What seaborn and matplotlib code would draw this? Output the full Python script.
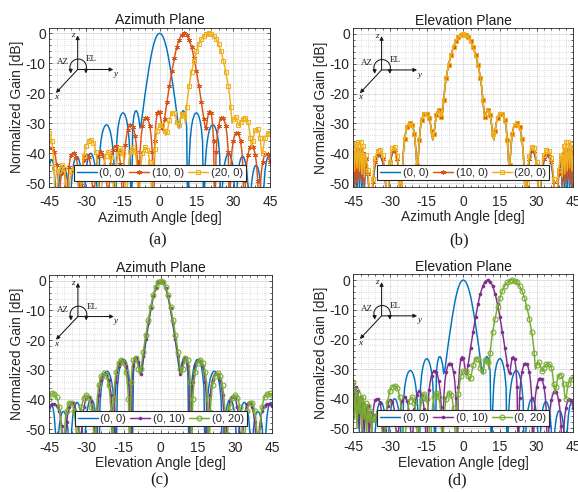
import numpy as np
import matplotlib
matplotlib.use("Agg")
import matplotlib.pyplot as plt
from matplotlib.patches import Arc
from matplotlib.ticker import MultipleLocator, FixedLocator
import seaborn as sns

sns.set_theme(style="white")
plt.rcParams["font.family"] = ["Liberation Sans", "DejaVu Sans"]
plt.rcParams["axes.unicode_minus"] = False

# ---------------- data (angle grid: -45 .. 45 deg, 0.5 deg step) ----------------
ANGLES = np.linspace(-45.0, 45.0, 181)
X_TICKS = [-45, -30, -15, 0, 15, 30, 45]
Y_TICKS = [-50, -40, -30, -20, -10, 0]

# broadside beam (0, 0), azimuth-type cut (panels a, c, d)
P00 = [
    -44.0, -42.6, -42.0, -42.8, -45.6, -51.2, -65.0, -54.8, -49.2, -46.3,
    -44.7, -44.1, -44.1, -45.0, -46.8, -50.0, -56.0, -66.0, -50.6, -45.7,
    -43.1, -41.7, -41.0, -41.1, -41.9, -43.5, -46.5, -52.2, -65.0, -51.5,
    -45.8, -42.8, -41.1, -40.2, -40.0, -40.5, -41.6, -43.5, -46.5, -52.0,
    -65.0, -41.0, -36.3, -33.7, -32.1, -31.1, -30.6, -30.5, -30.9, -31.8,
    -33.2, -35.5, -39.0, -45.0, -65.0, -36.1, -31.7, -29.2, -27.7, -26.8,
    -26.5, -26.7, -27.5, -28.8, -31.1, -35.0, -43.3, -65.0, -31.0, -27.5,
    -26.0, -25.8, -26.6, -28.4, -31.6, -30.0, -26.8, -23.6, -20.6, -17.8,
    -15.0, -12.4, -9.9, -7.6, -5.6, -3.9, -2.5, -1.4, -0.6, -0.15,
    0.0, -0.15, -0.6, -1.4, -2.5, -3.9, -5.6, -7.6, -9.9, -12.4,
    -15.0, -17.8, -20.6, -23.6, -26.8, -30.0, -31.6, -28.4, -26.6, -25.8,
    -26.0, -27.5, -31.0, -65.0, -43.3, -35.0, -31.1, -28.8, -27.5, -26.7,
    -26.5, -26.8, -27.7, -29.2, -31.7, -36.1, -65.0, -45.0, -39.0, -35.5,
    -33.2, -31.8, -30.9, -30.5, -30.6, -31.1, -32.1, -33.7, -36.3, -41.0,
    -65.0, -52.0, -46.5, -43.5, -41.6, -40.5, -40.0, -40.2, -41.1, -42.8,
    -45.8, -51.5, -65.0, -52.2, -46.5, -43.5, -41.9, -41.1, -41.0, -41.7,
    -43.1, -45.7, -50.6, -66.0, -56.0, -50.0, -46.8, -45.0, -44.1, -44.1,
    -44.7, -46.3, -49.2, -54.8, -65.0, -51.2, -45.6, -42.8, -41.4, -41.0,
    -41.3]

# beam steered to 10 deg (panel a orange)
A10 = [
    -38.2, -38.0, -38.2, -38.6, -39.5, -41.0, -44.0, -50.0, -65.0, -50.0,
    -46.5, -45.2, -45.5, -48.5, -65.0, -50.0, -44.5, -41.8, -40.5, -40.0,
    -40.0, -40.5, -41.6, -44.0, -50.0, -65.0, -50.5, -45.0, -42.3, -41.0,
    -40.5, -40.6, -41.2, -42.5, -45.0, -50.5, -65.0, -51.2, -45.5, -42.5,
    -40.8, -39.8, -39.5, -39.8, -40.8, -42.5, -45.5, -51.2, -65.0, -49.2,
    -43.5, -40.5, -38.8, -37.8, -37.5, -37.8, -38.8, -40.5, -43.5, -49.2,
    -65.0, -42.9, -37.2, -34.1, -32.2, -31.1, -30.6, -30.6, -31.1, -32.2,
    -34.1, -37.2, -42.9, -65.0, -39.7, -34.0, -31.0, -29.3, -28.3, -28.0,
    -28.3, -29.3, -31.0, -34.0, -39.7, -65.0, -36.0, -29.5, -26.5, -25.8,
    -26.3, -28.5, -31.5, -31.0, -28.5, -25.6, -22.8, -20.1, -17.5, -15.0,
    -12.6, -10.3, -8.2, -6.3, -4.6, -3.25, -2.1, -1.15, -0.5, -0.12,
    0.0, -0.12, -0.5, -1.15, -2.1, -3.25, -4.6, -6.3, -8.2, -10.3,
    -12.6, -15.0, -17.5, -20.1, -22.8, -25.6, -28.5, -31.0, -31.5, -28.5,
    -26.3, -25.8, -26.5, -29.5, -36.0, -65.0, -39.7, -34.0, -31.0, -29.3,
    -28.3, -28.0, -28.3, -29.3, -31.0, -34.0, -39.7, -65.0, -44.7, -39.0,
    -36.0, -34.3, -33.3, -33.0, -33.3, -34.3, -36.0, -39.0, -44.7, -65.0,
    -49.2, -43.5, -40.5, -38.8, -37.8, -37.5, -37.8, -38.8, -40.5, -43.5,
    -49.2, -65.0, -51.7, -46.0, -43.0, -41.3, -40.3, -40.0, -40.3, -41.3,
    -43.0]

# beam steered to 20 deg (panel a yellow)
A20 = [
    -33.2, -34.2, -36.0, -39.0, -45.0, -65.0, -54.0, -48.5, -45.8, -44.4,
    -44.0, -44.3, -45.3, -47.5, -52.0, -65.0, -52.0, -48.0, -46.0, -45.1,
    -45.0, -45.4, -46.5, -48.5, -53.0, -65.0, -49.0, -44.0, -41.0, -39.0,
    -37.5, -36.5, -35.9, -35.6, -35.6, -35.9, -36.5, -37.6, -39.5, -42.5,
    -48.0, -65.0, -55.0, -50.0, -45.5, -42.5, -40.8, -39.8, -39.5, -40.0,
    -41.3, -44.0, -49.0, -65.0, -48.0, -43.0, -40.2, -38.8, -38.3, -38.8,
    -40.0, -42.5, -47.5, -65.0, -47.0, -42.0, -39.5, -38.3, -38.0, -38.3,
    -39.5, -42.0, -47.0, -65.0, -48.0, -43.0, -40.0, -38.5, -38.0, -38.1,
    -38.8, -40.3, -43.0, -48.0, -65.0, -44.0, -38.5, -34.8, -32.5, -31.2,
    -30.6, -30.5, -30.7, -31.3, -32.5, -34.0, -33.0, -31.0, -28.8, -27.3,
    -26.5, -26.3, -26.6, -27.5, -29.5, -31.5, -30.5, -28.5, -27.0, -26.5,
    -27.5, -30.0, -24.5, -20.5, -17.6, -15.2, -13.0, -11.0, -9.2, -7.5,
    -6.0, -4.7, -3.6, -2.7, -1.9, -1.3, -0.8, -0.45, -0.2, -0.05,
    0.0, -0.05, -0.2, -0.45, -0.8, -1.3, -1.9, -2.7, -3.6, -4.7,
    -6.0, -7.5, -9.2, -11.0, -13.0, -15.2, -17.6, -20.5, -24.5, -30.0,
    -28.5, -27.8, -27.8, -28.8, -30.5, -30.8, -29.5, -28.8, -28.4, -28.2,
    -28.3, -28.6, -29.5, -31.5, -35.0, -38.0, -36.0, -33.5, -32.2, -31.7,
    -31.9, -32.8, -35.0, -39.0, -40.0, -37.0, -35.0, -33.8, -33.3, -33.2,
    -33.4]

# panel b (elevation cut, azimuth steering): common central part -25 .. 24.5 deg
B_CENTER = [
    -47.0, -39.5, -35.3, -32.8, -31.3, -30.4, -30.0, -30.1, -30.5, -31.5,
    -33.5, -38.0, -44.0, -42.5, -35.5, -31.2, -28.8, -27.4, -26.7, -26.6,
    -26.7, -27.2, -28.2, -29.8, -32.5, -35.5, -33.5, -30.0, -27.3, -25.8,
    -25.5, -26.2, -27.8, -26.5, -22.0, -17.7, -14.8, -12.4, -10.3, -8.5,
    -7.0, -5.6, -4.4, -3.3, -2.4, -1.65, -1.05, -0.6, -0.27, -0.07,
    0.0, -0.07, -0.27, -0.6, -1.05, -1.65, -2.4, -3.3, -4.4, -5.6,
    -7.0, -8.5, -10.3, -12.4, -14.8, -17.7, -22.0, -26.5, -27.8, -26.2,
    -25.5, -25.8, -27.3, -30.0, -33.5, -35.5, -32.5, -29.8, -28.2, -27.2,
    -26.7, -26.6, -26.7, -27.4, -28.8, -31.2, -35.5, -42.5, -44.0, -38.0,
    -33.5, -31.5, -30.5, -30.1, -30.0, -30.4, -31.3, -32.8, -35.3, -39.5]
# outer parts: -45 .. -25.5 deg and 25 .. 45 deg
B00_LEFT = [
    -41.3, -54.0, -40.3, -53.0, -40.0, -52.0, -40.3, -53.0, -41.3, -53.0,
    -43.5, -45.0, -48.0, -54.0, -65.0, -57.3, -50.8, -46.6, -43.9, -42.3,
    -41.4, -41.0, -41.1, -41.7, -42.9, -45.0, -48.3, -53.9, -65.0, -50.7,
    -44.7, -41.7, -40.1, -39.5, -39.6, -40.5, -42.5, -45.7, -51.7, -65.0]
B00_RIGHT = [
    -47.0, -65.0, -51.7, -45.7, -42.5, -40.5, -39.6, -39.5, -40.1, -41.7,
    -44.7, -50.7, -65.0, -53.9, -48.3, -45.0, -42.9, -41.7, -41.1, -41.0,
    -41.4, -42.3, -43.9, -46.6, -50.8, -57.3, -65.0, -54.0, -48.0, -45.0,
    -43.5, -53.0, -41.3, -53.0, -40.3, -52.0, -40.0, -53.0, -40.3, -54.0,
    -41.3]
B10_LEFT = [
    -39.8, -51.0, -38.8, -50.0, -38.5, -49.0, -38.8, -50.0, -39.8, -51.0,
    -42.0, -44.0, -47.0, -53.0, -65.0, -56.3, -49.8, -45.6, -42.9, -41.3,
    -40.4, -40.0, -40.1, -40.7, -41.9, -44.0, -47.3, -52.9, -65.0, -50.0,
    -44.0, -41.0, -39.4, -38.8, -38.9, -39.8, -41.8, -45.0, -51.0, -65.0]
B10_RIGHT = [
    -47.0, -65.0, -51.0, -45.0, -41.8, -39.8, -38.9, -38.8, -39.4, -41.0,
    -44.0, -50.0, -65.0, -52.9, -47.3, -44.0, -41.9, -40.7, -40.1, -40.0,
    -40.4, -41.3, -42.9, -45.6, -49.8, -56.3, -65.0, -53.0, -47.0, -44.0,
    -42.0, -51.0, -39.8, -50.0, -38.8, -49.0, -38.5, -50.0, -38.8, -51.0,
    -39.8]
B20_LEFT = [
    -38.0, -46.0, -36.8, -45.0, -36.2, -46.0, -36.3, -47.0, -37.5, -48.0,
    -40.5, -42.5, -45.5, -52.0, -65.0, -55.0, -48.5, -44.3, -41.6, -40.0,
    -39.1, -38.7, -38.8, -39.4, -40.6, -42.7, -46.0, -51.6, -65.0, -49.0,
    -43.0, -40.0, -38.4, -37.8, -37.9, -38.8, -40.8, -44.0, -50.0, -65.0]
B20_RIGHT = [
    -47.0, -65.0, -50.0, -44.0, -40.8, -38.8, -37.9, -37.8, -38.4, -40.0,
    -43.0, -49.0, -65.0, -51.6, -46.0, -42.7, -40.6, -39.4, -38.8, -38.7,
    -39.1, -40.0, -41.6, -44.3, -48.5, -55.0, -65.0, -52.0, -45.5, -42.5,
    -40.5, -48.0, -37.5, -47.0, -36.3, -46.0, -36.2, -45.0, -36.8, -46.0,
    -38.0]

# panel c (azimuth cut, elevation steering)
C10 = [
    -42.4, -41.9, -41.6, -41.5, -41.5, -41.7, -42.1, -42.8, -44.0, -46.0,
    -49.0, -55.0, -65.0, -53.4, -47.7, -44.6, -42.7, -41.6, -41.1, -41.1,
    -41.6, -42.7, -44.6, -47.7, -53.4, -65.0, -51.4, -45.7, -42.6, -40.7,
    -39.6, -39.1, -39.1, -39.6, -40.7, -42.6, -45.7, -51.4, -65.0, -44.3,
    -38.5, -35.3, -33.3, -32.1, -31.4, -31.2, -31.4, -32.1, -33.3, -35.3,
    -38.5, -44.3, -65.0, -39.8, -34.0, -30.8, -28.8, -27.6, -26.9, -26.7,
    -26.9, -27.6, -28.8, -30.8, -34.0, -39.8, -65.0, -33.0, -28.8, -26.8,
    -26.0, -26.2, -27.3, -29.5, -31.3, -28.6, -25.5, -22.5, -19.6, -16.9,
    -14.2, -11.75, -9.35, -7.2, -5.3, -3.7, -2.37, -1.33, -0.57, -0.14,
    0.0, -0.14, -0.57, -1.33, -2.37, -3.7, -5.3, -7.2, -9.35, -11.75,
    -14.2, -16.9, -19.6, -22.5, -25.5, -28.6, -31.3, -29.5, -27.3, -26.2,
    -26.0, -26.8, -28.8, -33.0, -65.0, -39.8, -34.0, -30.8, -28.8, -27.6,
    -26.9, -26.7, -26.9, -27.6, -28.8, -30.8, -34.0, -39.8, -65.0, -44.3,
    -38.5, -35.3, -33.3, -32.1, -31.4, -31.2, -31.4, -32.1, -33.3, -35.3,
    -38.5, -44.3, -65.0, -51.4, -45.7, -42.6, -40.7, -39.6, -39.1, -39.1,
    -39.6, -40.7, -42.6, -45.7, -51.4, -65.0, -53.4, -47.7, -44.6, -42.7,
    -41.6, -41.1, -41.1, -41.6, -42.7, -44.6, -47.7, -53.4, -65.0, -55.0,
    -49.0, -46.0, -44.0, -42.8, -42.1, -41.7, -41.5, -41.5, -41.6, -41.9,
    -42.4]
C20 = [
    -40.0, -38.2, -38.0, -38.0, -38.2, -38.6, -39.3, -40.5, -42.5, -46.0,
    -52.0, -65.0, -52.5, -46.8, -43.8, -42.1, -41.1, -40.8, -41.1, -42.1,
    -43.8, -46.8, -52.5, -65.0, -51.6, -45.8, -42.6, -40.6, -39.4, -38.7,
    -38.5, -38.7, -39.4, -40.6, -42.6, -45.8, -51.6, -65.0, -44.3, -38.5,
    -35.3, -33.3, -32.1, -31.4, -31.2, -31.4, -32.1, -33.3, -35.3, -38.5,
    -44.3, -65.0, -39.8, -34.0, -30.8, -28.8, -27.6, -26.9, -26.7, -26.9,
    -27.6, -28.8, -30.8, -34.0, -39.8, -65.0, -34.0, -29.0, -26.8, -25.8,
    -26.0, -27.3, -29.6, -31.5, -29.9, -26.9, -23.9, -21.0, -18.4, -15.8,
    -13.3, -10.9, -8.7, -6.7, -4.9, -3.45, -2.2, -1.2, -0.52, -0.13,
    0.0, -0.13, -0.52, -1.2, -2.2, -3.45, -4.9, -6.7, -8.7, -10.9,
    -13.3, -15.8, -18.4, -21.0, -23.9, -26.9, -29.9, -31.5, -29.6, -27.3,
    -26.0, -25.8, -26.8, -29.0, -34.0, -65.0, -39.8, -34.0, -30.8, -28.8,
    -27.6, -26.9, -26.7, -26.9, -27.6, -28.8, -30.8, -34.0, -39.8, -65.0,
    -44.3, -38.5, -35.3, -33.3, -32.1, -31.4, -31.2, -31.4, -32.1, -33.3,
    -35.3, -38.5, -44.3, -65.0, -51.6, -45.8, -42.6, -40.6, -39.4, -38.7,
    -38.5, -38.7, -39.4, -40.6, -42.6, -45.8, -51.6, -65.0, -52.5, -46.8,
    -43.8, -42.1, -41.1, -40.8, -41.1, -42.1, -43.8, -46.8, -52.5, -65.0,
    -52.0, -46.0, -42.5, -40.5, -39.3, -38.6, -38.2, -38.0, -38.0, -38.2,
    -38.6]

# panel d: like panel a but with a noisy left edge (-45 .. -37 deg)
D10_EDGE = [-35.0, -44.0, -36.0, -47.0, -37.5, -50.0, -39.5, -46.0, -41.5,
            -52.0, -43.0, -48.0, -42.5, -53.0, -44.5, -50.0, -45.5]
D20_EDGE = [-34.5, -47.0, -37.0, -50.0, -38.5, -45.0, -40.0, -51.0, -39.5,
            -47.0, -41.5, -52.0, -42.5, -48.0, -44.0, -53.0, -46.5]

B00 = B00_LEFT + B_CENTER + B00_RIGHT
B10 = B10_LEFT + B_CENTER + B10_RIGHT
B20 = B20_LEFT + B_CENTER + B20_RIGHT
D10 = D10_EDGE + A10[17:]
D20 = D20_EDGE + A20[17:]

for arr in (P00, A10, A20, B00, B10, B20, C10, C20, D10, D20):
    assert len(arr) == 181, len(arr)

LABELS_AZ = ["(0, 0)", "(10, 0)", "(20, 0)"]
LABELS_EL = ["(0, 0)", "(0, 10)", "(0, 20)"]

# ---------------- styles ----------------
BLUE, ORANGE, YELLOW = "#0072BD", "#D95319", "#EDB120"
PURPLE, GREEN = "#7E2F8E", "#77AC30"
STYLES = {
    "blue": dict(color=BLUE),
    "orange": dict(color=ORANGE, marker=(6, 2, 0), markersize=3.6,
                   markeredgewidth=0.6, markeredgecolor=ORANGE),
    "yellow": dict(color=YELLOW, marker="s", markersize=3.3,
                   markerfacecolor="none", markeredgecolor=YELLOW,
                   markeredgewidth=0.8),
    "purple": dict(color=PURPLE, marker="o", markersize=2.2,
                   markerfacecolor=PURPLE, markeredgecolor=PURPLE,
                   markeredgewidth=0.4),
    "green": dict(color=GREEN, marker="o", markersize=3.5,
                  markerfacecolor="none", markeredgecolor=GREEN,
                  markeredgewidth=0.8),
}
TXT = "#262626"

W, H = 578, 492
fig = plt.figure(figsize=(W / 100, H / 100), dpi=100)


def draw_icon(ax):
    ap = dict(arrowstyle="-|>", color="k", lw=0.75, mutation_scale=5.5,
              shrinkA=0, shrinkB=0)
    o = (0.1285, 0.737)
    for tip in [(0.1285, 0.951), (0.29, 0.737), (0.03, 0.59)]:
        ax.annotate("", xy=tip, xytext=o, xycoords="axes fraction",
                    textcoords="axes fraction", arrowprops=ap,
                    annotation_clip=False)
    ax.add_patch(Arc((0.131, 0.75), 0.075, 0.105, theta1=-20, theta2=205,
                     transform=ax.transAxes, lw=0.75, color="k"))
    for xx in (0.097, 0.166):
        ax.annotate("", xy=(xx, 0.712), xytext=(xx, 0.735),
                    xycoords="axes fraction", textcoords="axes fraction",
                    arrowprops=ap, annotation_clip=False)
    serif = ["Liberation Serif", "DejaVu Serif"]
    kw = dict(transform=ax.transAxes, ha="center", va="center",
              fontsize=6.5, family=serif, color="k")
    ax.text(0.108, 0.951, "z", style="italic", **kw)
    ax.text(0.300, 0.708, "y", style="italic", **kw)
    ax.text(0.030, 0.565, "x", style="italic", **kw)
    ax.text(0.062, 0.781, "AZ", **kw)
    ax.text(0.192, 0.800, "EL", **kw)


def draw_panel(rect, title, xlabel, series, labels, tag, tag_xy):
    l, r, t, b = rect
    ax = fig.add_axes([l / W, 1 - b / H, (r - l) / W, (b - t) / H])
    handles = []
    for values, style in series:
        sns.lineplot(x=ANGLES, y=np.asarray(values, dtype=float), ax=ax,
                     sort=False, estimator=None, errorbar=None, legend=False,
                     linewidth=1.05, markevery=2, **STYLES[style])
        handles.append(ax.lines[-1])
    ax.set_xlim(-45, 45)
    ax.set_ylim(-51.2, 1.9)
    ax.xaxis.set_major_locator(FixedLocator(X_TICKS))
    ax.yaxis.set_major_locator(FixedLocator(Y_TICKS))
    ax.xaxis.set_minor_locator(MultipleLocator(3))
    ax.yaxis.set_minor_locator(MultipleLocator(2))
    ax.grid(True, which="major", color="#dcdcdc", linewidth=0.6, linestyle="-")
    ax.grid(True, which="minor", color="#c4c4c4", linewidth=0.5,
            linestyle=(0, (1, 2)))
    ax.set_axisbelow(True)
    ax.tick_params(which="both", direction="in", top=True, right=True,
                   bottom=True, left=True, color=TXT, labelcolor=TXT,
                   width=0.5, labelsize=10)
    ax.tick_params(which="major", length=2.5)
    ax.tick_params(which="minor", length=1.4)
    ax.tick_params(axis="x", which="major", pad=6)
    ax.tick_params(axis="y", which="major", pad=2.5)
    for s in ax.spines.values():
        s.set_visible(True)
        s.set_color(TXT)
        s.set_linewidth(0.6)
    ax.set_title(title, fontsize=10, pad=2.5, color="k")
    ax.set_xlabel(xlabel, fontsize=10, labelpad=1, color=TXT)
    ax.set_ylabel("Normalized Gain [dB]", fontsize=10, labelpad=1, color=TXT)
    leg = ax.legend(handles, labels, loc="lower center",
                    bbox_to_anchor=(0.5, 0.0), ncol=3, fontsize=8,
                    handlelength=1.8, handletextpad=0.25, columnspacing=0.35,
                    borderpad=0.25, borderaxespad=0.55, frameon=True,
                    fancybox=False, framealpha=1, edgecolor=TXT)
    leg.get_frame().set_linewidth(0.8)
    draw_icon(ax)
    fig.text(tag_xy[0] / W, 1 - tag_xy[1] / H, tag, ha="center", va="center",
             fontsize=12, family=["Liberation Serif", "DejaVu Serif"],
             color="k")
    return ax


draw_panel((49.3, 270.0, 27.6, 186.9), "Azimuth Plane", "Azimuth Angle [deg]",
           [(P00, "blue"), (A10, "orange"), (A20, "yellow")], LABELS_AZ,
           "(a)", (158, 240))
draw_panel((353.3, 573.3, 28.3, 186.6), "Elevation Plane", "Azimuth Angle [deg]",
           [(B00, "blue"), (B10, "orange"), (B20, "yellow")], LABELS_AZ,
           "(b)", (459, 240))
draw_panel((49.3, 272.0, 275.1, 432.6), "Azimuth Plane", "Elevation Angle [deg]",
           [(P00, "blue"), (C10, "purple"), (C20, "green")], LABELS_EL,
           "(c)", (160, 480))
draw_panel((353.3, 573.3, 274.4, 431.9), "Elevation Plane", "Elevation Angle [deg]",
           [(P00, "blue"), (D10, "purple"), (D20, "green")], LABELS_EL,
           "(d)", (457, 480))

fig.savefig("out.png", dpi=100)
